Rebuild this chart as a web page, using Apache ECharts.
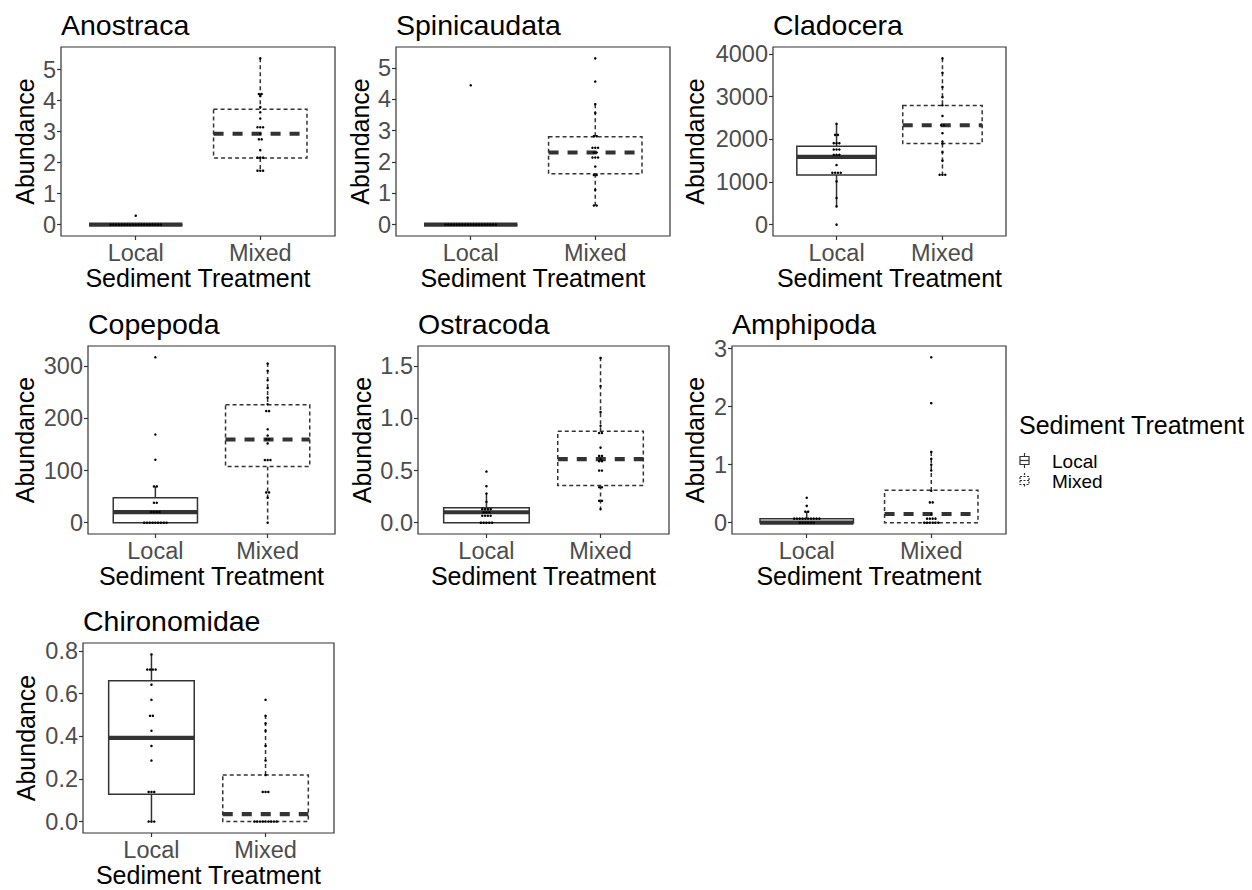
<!DOCTYPE html>
<html><head><meta charset="utf-8">
<script src="https://cdn.jsdelivr.net/npm/echarts@6/dist/echarts.min.js"></script>
<style>html,body{margin:0;padding:0;background:#fff}#c{width:1252px;height:890px}</style>
</head><body><div id="c"></div>
<script>
// ---------------- data ----------------
const taxa = ['Anostraca','Spinicaudata','Cladocera','Copepoda','Ostracoda','Amphipoda','Chironomidae'];
const categories = ['Local','Mixed'];
const yTitle = 'Abundance';
const xTitle = 'Sediment Treatment';

// box stats: [lower whisker, Q1, median, Q3, upper whisker]
const localBoxes = [
  [0, 0, 0, 0, 0],
  [0, 0, 0, 0, 0],
  [428, 1163, 1591, 1841, 2363],
  [0, 0, 20.4, 47.9, 69.5],
  [0, 0, 0.10, 0.144, 0.28],
  [0, 0, 0, 0.07, 0.19],
  [0, 0.128, 0.393, 0.661, 0.784]
];
const mixedBoxes = [
  [1.70, 2.15, 2.93, 3.72, 5.36],
  [0.61, 1.62, 2.30, 2.80, 3.84],
  [1170, 1903, 2331, 2791, 3899],
  [0, 107.8, 159.5, 226, 306],
  [0.141, 0.357, 0.61, 0.878, 1.586],
  [0, 0, 0.15, 0.56, 1.22],
  [0, 0, 0.035, 0.218, 0.50]
];
// individual observations (dot plot)
const localDots = [
  [0.29,0,0,0,0,0,0,0,0,0,0,0,0,0,0,0,0,0,0,0],
  [4.44,0,0,0,0,0,0,0,0,0,0,0,0,0,0,0,0,0,0,0],
  [2363,2105,2105,1911,1911,1911,1762,1762,1762,1637,1637,1637,1396,1216,1216,1216,1216,1014,624,428,0],
  [317,169,120.6,69.5,69.5,38.3,38.3,20.4,20.4,20.4,20.4,0,0,0,0,0,0,0,0,0],
  [0.49,0.35,0.28,0.2,0.13,0.13,0.13,0.13,0.10,0.10,0.10,0.067,0.067,0.067,0.067,0,0,0,0,0],
  [0.43,0.29,0.19,0.19,0.07,0.07,0.07,0.07,0.07,0.07,0.07,0.07,0.07,0.07,0,0,0,0,0,0],
  [0.784,0.713,0.713,0.713,0.713,0.642,0.571,0.496,0.496,0.426,0.355,0.286,0.139,0.139,0.139,0.07,0.07,0,0,0]
];
const mixedDots = [
  [5.36,4.21,4.21,4.15,3.79,3.62,3.42,3.14,3.14,3.14,2.93,2.75,2.75,2.40,2.16,2.16,2.16,1.74,1.74,1.74],
  [5.30,4.56,3.84,3.56,2.82,2.82,2.45,2.45,2.45,2.30,2.30,2.14,2.14,2.14,1.85,1.58,1.58,1.11,0.61,0.61],
  [3899,3560,3230,2990,2800,2550,2331,2331,2145,1949,1900,1700,1500,1170,1170,1170],
  [305,291,273,258,240,227,214,214,179,167,160,160,152,120,120,120,58,58,48,0],
  [1.58,1.31,1.06,0.93,0.86,0.86,0.72,0.64,0.64,0.61,0.59,0.59,0.50,0.50,0.34,0.34,0.21,0.21,0.13],
  [2.85,2.06,1.22,1.10,1.00,0.90,0.55,0.35,0.35,0.15,0.07,0.07,0.07,0.07,0,0,0,0,0,0],
  [0.571,0.496,0.46,0.426,0.355,0.286,0.218,0.139,0.139,0.139,0.07,0,0,0,0,0,0,0,0,0]
];
// y-axis tick values
const yTicks = [
  [0,1,2,3,4,5],
  [0,1,2,3,4,5],
  [0,1000,2000,3000,4000],
  [0,100,200,300],
  [0,0.5,1.0,1.5],
  [0,1,2,3],
  [0,0.2,0.4,0.6,0.8]
];

// ---------------- layout / style ----------------
const FONT = "'Liberation Sans', Arial, Helvetica, sans-serif";
const panels = [ // left, top, width, height, yNameGap
  [61, 47, 274, 189, 23.5],
  [396, 47, 274, 189, 23.5],
  [773, 47, 233, 189, 65.5],
  [88, 346, 247, 188, 50.5],
  [418, 346, 251, 188, 44],
  [732, 346, 274, 188, 24.5],
  [83, 643, 251, 190, 45]
];
const DOT_GAP = 2.8;
const INK = '#333333';

// y range like ggplot: dotplot bins (range/30) plus 5% expansion
function yLimitsFor(i) {
  const all = localDots[i].concat(mixedDots[i], localBoxes[i], mixedBoxes[i]);
  const lo = Math.min.apply(null, all), hi = Math.max.apply(null, all);
  const r = hi - lo;
  const pad = r / 60 + 0.05 * r * (31 / 30);
  return [lo - pad, hi + pad];
}

function renderBox(dashed) {
  return function (params, api) {
    const x = api.value(0);
    const pLo = api.coord([x, api.value(1)]);
    const pQ1 = api.coord([x, api.value(2)]);
    const pMed = api.coord([x, api.value(3)]);
    const pQ3 = api.coord([x, api.value(4)]);
    const pHi = api.coord([x, api.value(5)]);
    const w = api.size([0.75, 0])[0];
    const cx = pMed[0];
    const st = { stroke: INK, lineWidth: 1.5, fill: null, lineDash: dashed ? [4, 3] : null };
    return {
      type: 'group',
      children: [
        { type: 'line', shape: { x1: cx, y1: pHi[1], x2: cx, y2: pQ3[1] }, style: st },
        { type: 'line', shape: { x1: cx, y1: pQ1[1], x2: cx, y2: pLo[1] }, style: st },
        { type: 'rect', shape: { x: cx - w / 2, y: pQ3[1], width: w, height: pQ1[1] - pQ3[1] },
          style: Object.assign({}, st, { fill: '#fff' }) },
        { type: 'line', shape: { x1: cx - w / 2, y1: pMed[1], x2: cx + w / 2, y2: pMed[1] },
          style: { stroke: INK, lineWidth: 4.2, lineDash: dashed ? [10, 9] : null } }
      ]
    };
  };
}
function renderDot(params, api) {
  const p = api.coord([api.value(0), api.value(1)]);
  const k = api.value(2), n = api.value(3);
  return { type: 'circle', shape: { cx: p[0] + (k - (n - 1) / 2) * DOT_GAP, cy: p[1], r: 1.25 },
           style: { fill: '#000' } };
}
function stackDots(vals, x) {
  const counts = {}, seen = {};
  vals.forEach(v => counts[v] = (counts[v] || 0) + 1);
  return vals.map(v => { const k = seen[v] || 0; seen[v] = k + 1; return [x, v, k, counts[v]]; });
}
function fmt(v, ticks) {
  const step = ticks[1] - ticks[0];
  return step < 1 ? Number(v).toFixed(1) : String(Math.round(v));
}

const grids = [], xAxes = [], yAxes = [], series = [], titles = [];
panels.forEach((pn, i) => {
  grids.push({ left: pn[0], top: pn[1], width: pn[2], height: pn[3], show: true,
               borderColor: INK, borderWidth: 1.2, backgroundColor: 'transparent', containLabel: false });
  xAxes.push({
    gridIndex: i, type: 'value', min: 0.4, max: 2.6,
    axisLine: { show: false, onZero: false }, splitLine: { show: false },
    axisTick: { show: true, length: 4, lineStyle: { color: INK, width: 1.2 }, customValues: [1, 2] },
    axisLabel: { customValues: [1, 2], formatter: v => categories[Math.round(v) - 1], margin: 5,
                 fontSize: 23.5, color: '#4D4D4D', fontFamily: FONT },
    name: xTitle, nameLocation: 'middle', nameGap: 29.5,
    nameTextStyle: { fontSize: 25, color: '#000', fontFamily: FONT }
  });
  const ticks = yTicks[i];
  const lim = yLimitsFor(i);
  yAxes.push({
    gridIndex: i, type: 'value', min: lim[0], max: lim[1],
    axisLine: { show: false, onZero: false }, splitLine: { show: false },
    axisTick: { show: true, length: 4, lineStyle: { color: INK, width: 1.2 }, customValues: ticks },
    axisLabel: { customValues: ticks, formatter: v => fmt(v, ticks), margin: 5,
                 fontSize: 23.5, color: '#4D4D4D', fontFamily: FONT },
    name: yTitle, nameLocation: 'middle', nameRotate: 90, nameGap: pn[4],
    nameTextStyle: { fontSize: 25, color: '#000', fontFamily: FONT }
  });
  titles.push({ text: taxa[i], left: pn[0], top: pn[1] - 37, padding: 0,
                textStyle: { fontSize: 28.5, fontWeight: 'normal', color: '#000', fontFamily: FONT } });
  series.push({ type: 'custom', name: 'Local', xAxisIndex: i, yAxisIndex: i, renderItem: renderBox(false),
                data: [[1].concat(localBoxes[i])], z: 2, silent: true });
  series.push({ type: 'custom', name: 'Mixed', xAxisIndex: i, yAxisIndex: i, renderItem: renderBox(true),
                data: [[2].concat(mixedBoxes[i])], z: 2, silent: true });
  series.push({ type: 'custom', name: 'Local', xAxisIndex: i, yAxisIndex: i, renderItem: renderDot,
                data: stackDots(localDots[i], 1), z: 3, silent: true });
  series.push({ type: 'custom', name: 'Mixed', xAxisIndex: i, yAxisIndex: i, renderItem: renderDot,
                data: stackDots(mixedDots[i], 2), z: 3, silent: true });
});
titles.push({ text: 'Sediment Treatment', left: 1019, top: 412, padding: 0,
              textStyle: { fontSize: 25, fontWeight: 'normal', color: '#000', fontFamily: FONT } });

// legend key glyphs (small boxplot symbols)
function keyGlyph(x, y, dashed) {
  const st = { stroke: INK, lineWidth: 1.2, fill: '#fff', lineDash: dashed ? [2, 1.5] : null };
  return [
    { type: 'line', shape: { x1: x + 4.5, y1: y, x2: x + 4.5, y2: y + 3.5 }, style: st },
    { type: 'rect', shape: { x: x, y: y + 3.5, width: 9, height: 8 }, style: st },
    { type: 'line', shape: { x1: x, y1: y + 7.5, x2: x + 9, y2: y + 7.5 }, style: st },
    { type: 'line', shape: { x1: x + 4.5, y1: y + 11.5, x2: x + 4.5, y2: y + 15 }, style: st }
  ];
}

const chart = echarts.init(document.getElementById('c'), null, { renderer: 'svg' });
chart.setOption({
  animation: false,
  backgroundColor: '#fff',
  title: titles,
  grid: grids, xAxis: xAxes, yAxis: yAxes, series: series,
  legend: {
    orient: 'vertical', left: 1018, top: 451, padding: 0, itemWidth: 10, itemHeight: 14, itemGap: 0,
    selectedMode: false,
    textStyle: { fontSize: 19, lineHeight: 20, color: '#000', fontFamily: FONT, padding: [0, 0, 0, 19] },
    data: [
      { name: 'Local', icon: 'rect', itemStyle: { color: 'rgba(0,0,0,0)', borderWidth: 0 } },
      { name: 'Mixed', icon: 'rect', itemStyle: { color: 'rgba(0,0,0,0)', borderWidth: 0 } }
    ]
  },
  graphic: [
    { type: 'group', silent: true, children: keyGlyph(1020, 453, false).concat(keyGlyph(1020, 473, true)) }
  ]
});
</script></body></html>
